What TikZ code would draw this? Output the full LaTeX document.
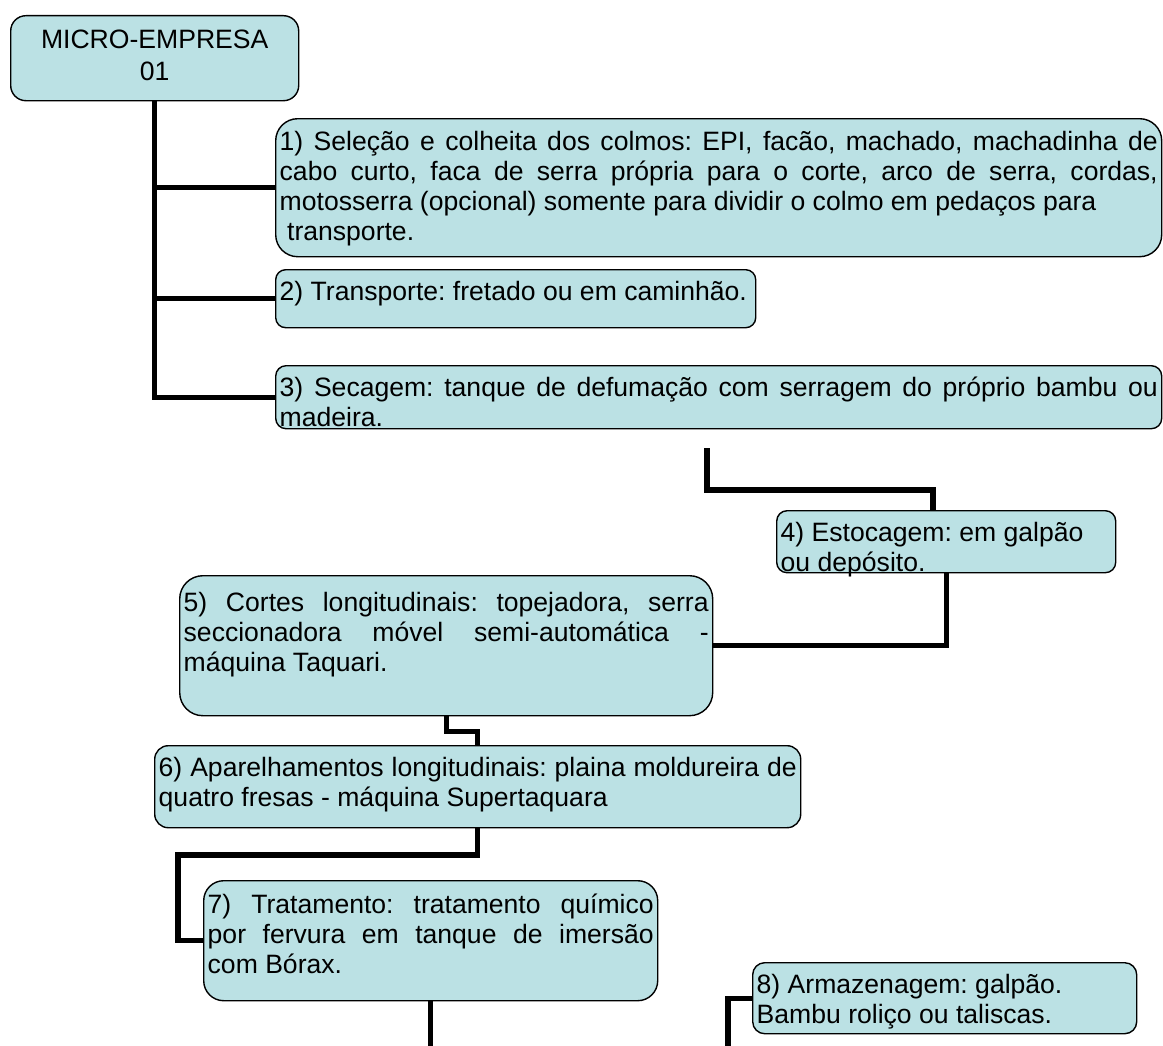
\documentclass[tikz,border=0pt]{standalone}
\usepackage{fontspec}
\setmainfont{Liberation Sans}
\usetikzlibrary{calc}

\definecolor{boxfill}{RGB}{187,225,228}
\frenchspacing

% text of a step box: [top pad]{text width}{box height}{text}
\newcommand{\steptext}[4][0.25cm]{%
  \parbox[c][#3][t]{#2}{\tolerance=10000\hyphenpenalty=10000\exhyphenpenalty=10000
    \vspace*{#1}\strut #4}}

\begin{document}
\begin{tikzpicture}[
  x=1cm,
  y=1cm,
  font=\fontsize{18.9pt}{21.34pt}\selectfont,
  link/.style={draw=black,line width=3.6pt},
  stepbox/.style={draw=black,line width=1pt,fill=boxfill,anchor=north west,
                  inner xsep=0.1cm,inner ysep=0pt}
]
\useasboundingbox (0,0) rectangle (29.075,-26.125);

% ---------------------------------------------------------------- head
\node[stepbox,rounded corners=0.38cm] (start) at (0.25,-0.375)
  {\steptext[0.29cm]{7cm}{2.125cm}{\centering MICRO-EMPRESA\\[0.05cm]01}};

% ---------------------------------------------------------------- steps 1-3 (branches of the trunk)
\node[stepbox,rounded corners=0.55cm] (s1) at (6.875,-2.95)
  {\steptext[0.275cm]{21.95cm}{3.45cm}{1) Seleção e colheita dos colmos: EPI, facão, machado, machadinha de\linebreak
   cabo curto, faca de serra própria para o corte, arco de serra, cordas,\linebreak
   motosserra (opcional) somente para dividir o colmo em pedaços para\\\hspace*{0.28em}transporte.}};
\node[stepbox,rounded corners=0.25cm] (s2) at (6.875,-6.725)
  {\steptext{11.8cm}{1.45cm}{2) Transporte: fretado ou em caminhão.}};
\node[stepbox,rounded corners=0.26cm] (s3) at (6.875,-9.125)
  {\steptext{21.95cm}{1.575cm}{3) Secagem: tanque de defumação com serragem do próprio bambu ou\linebreak
   madeira.}};

% ---------------------------------------------------------------- steps 4-8
\node[stepbox,rounded corners=0.26cm] (s4) at (19.4,-12.75)
  {\steptext{8.275cm}{1.55cm}{4) Estocagem: em galpão\\ou depósito.}};
\node[stepbox,rounded corners=0.58cm] (s5) at (4.475,-14.375)
  {\steptext[0.37cm]{13.125cm}{3.5cm}{5) Cortes longitudinais: topejadora, serra\linebreak
   seccionadora móvel semi-automática -\linebreak
   máquina Taquari.}};
\node[stepbox,rounded corners=0.34cm] (s6) at (3.85,-18.625)
  {\steptext{15.95cm}{2.05cm}{6) Aparelhamentos longitudinais: plaina moldureira de\linebreak
   quatro fresas - máquina Supertaquara}};
\node[stepbox,rounded corners=0.5cm] (s7) at (5.075,-22)
  {\steptext[0.3cm]{11.15cm}{3cm}{7) Tratamento: tratamento químico\linebreak
   por fervura em tanque de imersão\linebreak
   com Bórax.}};
\node[stepbox,rounded corners=0.3cm] (s8) at (18.8,-24.05)
  {\steptext{9.4cm}{1.775cm}{8) Armazenagem: galpão.\\Bambu roliço ou taliscas.}};

% ---------------------------------------------------------------- connectors
% trunk with its three branches
\draw[link] (start.south) |- (s3.west);
\draw[link] (start.south |- s1.west) -- (s1.west);
\draw[link] (start.south |- s2.west) -- (s2.west);

% 3 -> 4 (starts below box 3)
\coordinate (k34) at (17.675,-11.2);
\coordinate (k34b) at (23.325,-12.25);
\draw[link] (k34) |- (k34b) -- (k34b |- s4.north);

\draw[link] (s4.south) |- (s5.east);
\draw[link] (s5.south) -- ++(0,-0.375) -| (s6.north);

\coordinate (k67) at (4.45,-21.375);
\draw[link] (s6.south) |- (k67) |- (s7.west);

% open ends at the bottom edge
\coordinate (bottom) at (0,-26.3);
\draw[link] (s7.south) -- (s7.south |- bottom);
\coordinate (k8) at (18.2,-26.3);
\draw[link] (k8) |- (s8.west);

\end{tikzpicture}
\end{document}
